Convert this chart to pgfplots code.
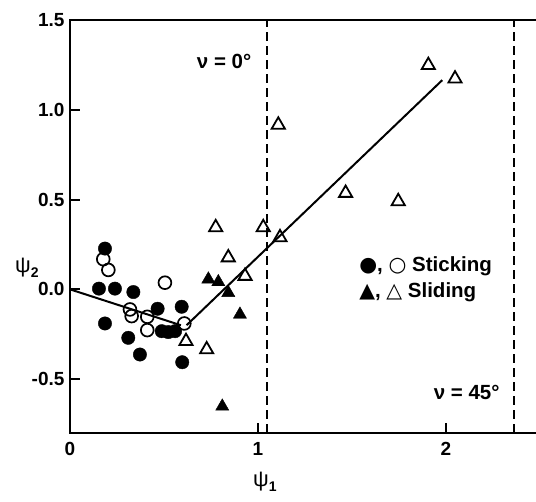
\documentclass[border=0pt]{standalone}
\usepackage{fontspec}
\setmainfont{Liberation Sans}
\newfontfamily\symfont{DejaVu Sans}
\usepackage{pgfplots}
\pgfplotsset{compat=1.18}

\newcommand{\lbl}{\fontsize{19}{22}\selectfont\bfseries}
\newcommand{\txt}{\fontsize{20.5}{24}\selectfont\bfseries}

\begin{document}
\begin{tikzpicture}
\begin{axis}[
    at={(70pt,69pt)}, anchor=south west,
    scale only axis,
    width=470pt, height=413pt,
    xmin=0, xmax=2.5,
    ymin=-0.8, ymax=1.5,
    xtick={0,1,2},
    xticklabels={0,1,2},
    ytick={-0.5,0,0.5,1,1.5},
    yticklabels={-0.5,0.0,0.5,1.0,1.5},
    xtick pos=bottom, ytick pos=left,
    tick align=inside,
    major tick length=10pt,
    every tick/.style={black, line width=2pt},
    axis line style={line width=2.4pt},
    tick label style={font=\lbl},
    xticklabel style={yshift=-6pt},
    yticklabel style={xshift=-2pt},
    /pgf/number format/assume math mode=true,
    clip=false,
]

% fitted lines
\addplot[black, line width=2pt] coordinates {(0,0) (0.59,-0.20)};
\addplot[black, line width=2pt] coordinates {(0.62,-0.20) (1.98,1.165)};

% limits
\addplot[black, line width=1.8pt, dash pattern=on 9pt off 5pt] coordinates {(1.05,-0.8) (1.05,1.5)};
\addplot[black, line width=1.8pt, dash pattern=on 9pt off 5pt] coordinates {(2.36,-0.8) (2.36,1.5)};

% sticking, filled
\addplot[only marks, mark=*, mark size=6.7pt, black, mark options={fill=black}] coordinates {
 (0.186,0.227) (0.154,0.004) (0.239,0.004) (0.337,-0.015) (0.186,-0.19)
 (0.31,-0.27) (0.372,-0.363) (0.466,-0.108) (0.488,-0.233) (0.523,-0.238)
 (0.559,-0.233) (0.594,-0.097) (0.597,-0.406)
};
% sticking, open
\addplot[only marks, mark=o, mark size=6.4pt, black, mark options={fill=white, line width=1.7pt}] coordinates {
 (0.177,0.168) (0.204,0.108) (0.505,0.037) (0.319,-0.112) (0.328,-0.149)
 (0.411,-0.153) (0.411,-0.227) (0.608,-0.19)
};
% sliding, open
\addplot[only marks, mark=triangle, mark size=7.6pt, black, mark options={fill=white, line width=1.8pt}] coordinates {
 (1.906,1.248) (2.048,1.173) (1.108,0.916) (1.466,0.536) (1.746,0.49)
 (0.775,0.345) (1.028,0.345) (1.117,0.289) (0.842,0.177) (0.931,0.074)
 (0.617,-0.289) (0.727,-0.335)
};
% sliding, filled
\addplot[only marks, mark=triangle*, mark size=7.6pt, black, mark options={fill=black}] coordinates {
 (0.736,0.056) (0.789,0.041) (0.842,-0.019) (0.904,-0.14) (0.81,-0.652)
};

\node[font=\txt] at (axis cs:0.82,1.27) {ν = 0°};
\node[font=\txt] at (axis cs:2.11,-0.575) {ν = 45°};

\node[font=\txt, anchor=west, align=left] at (axis cs:1.52,0.128)
  {{\symfont ●}, {\symfont ○} Sticking};
\node[font=\txt, anchor=west, align=left] at (axis cs:1.52,-0.017)
  {{\symfont ▲}, {\symfont △} Sliding};

\node[font=\fontsize{22}{24}\selectfont] at (axis cs:-0.229,0.12)
  {ψ\raisebox{-0.45ex}{\fontsize{14}{16}\selectfont\bfseries 2}};
\node[font=\fontsize{22}{24}\selectfont] at (axis cs:1.037,-1.07)
  {ψ\raisebox{-0.45ex}{\fontsize{14}{16}\selectfont\bfseries 1}};
\end{axis}
\pgfresetboundingbox
\path[use as bounding box] (0,0) rectangle (536pt,502pt);
\end{tikzpicture}
\end{document}
